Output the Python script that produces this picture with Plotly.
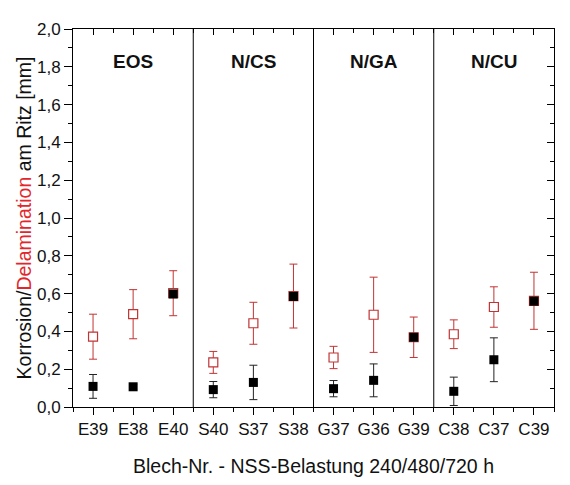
import plotly.graph_objects as go

# ---- data ----
categories = ["E39", "E38", "E40", "S40", "S37", "S38",
              "G37", "G36", "G39", "C38", "C37", "C39"]
groups = ["EOS", "N/CS", "N/GA", "N/CU"]
group_sizes = [3, 3, 3, 3]

korrosion = [0.109, 0.107, 0.598, 0.092, 0.130, 0.585,
             0.097, 0.141, 0.369, 0.083, 0.250, 0.560]
korrosion_err = [0.063, 0.012, 0.015, 0.043, 0.091, 0.015,
                 0.043, 0.087, 0.015, 0.075, 0.116, 0.015]

delamination = [0.372, 0.491, 0.602, 0.236, 0.443, 0.587,
                0.262, 0.488, 0.369, 0.385, 0.529, 0.562]
delamination_err = [0.119, 0.130, 0.119, 0.058, 0.111, 0.169,
                    0.059, 0.199, 0.107, 0.076, 0.107, 0.151]

y_ticks = [0.0, 0.2, 0.4, 0.6, 0.8, 1.0, 1.2, 1.4, 1.6, 1.8, 2.0]

# ---- style ----
FONT = "Liberation Sans, Arial, sans-serif"
RED = "#c03434"
TITLE_RED = "#e3262b"
xpos = list(range(1, len(categories) + 1))

fig = go.Figure()

fig.add_trace(go.Scatter(
    x=xpos, y=delamination, mode="markers", name="Delamination",
    marker=dict(symbol="square", size=9, color="white",
                line=dict(color=RED, width=1.2)),
    error_y=dict(type="data", array=delamination_err, visible=True,
                 color=RED, thickness=1, width=4),
    showlegend=False, hoverinfo="skip"))

fig.add_trace(go.Scatter(
    x=xpos, y=korrosion, mode="markers", name="Korrosion",
    marker=dict(symbol="square", size=9, color="black",
                line=dict(color="black", width=0)),
    error_y=dict(type="data", array=korrosion_err, visible=True,
                 color="#222222", thickness=1, width=4),
    showlegend=False, hoverinfo="skip"))

# dummy trace for the top/right axes (inward ticks)
fig.add_trace(go.Scatter(x=[None], y=[None], xaxis="x2", yaxis="y2",
                         showlegend=False, hoverinfo="skip"))

# group separators and labels
pos = 0.5
for i, (g, n) in enumerate(zip(groups, group_sizes)):
    center = pos + n / 2
    fig.add_annotation(x=center, y=1.83, xref="x", yref="y", text="<b>%s</b>" % g,
                       showarrow=False, font=dict(family=FONT, size=19, color="#111111"))
    pos += n
    if i < len(groups) - 1:
        fig.add_shape(type="line", x0=pos, x1=pos, y0=0, y1=2.0, xref="x", yref="y",
                      line=dict(color="black", width=1))

xr = [0.5, len(categories) + 0.5]
yr = [0.0, 2.0]

fig.update_layout(
    width=562, height=477,
    margin=dict(l=65, r=16, t=12, b=73),
    paper_bgcolor="white", plot_bgcolor="white",
    separators=",.",
    font=dict(family=FONT, color="#111111"),
    xaxis=dict(range=xr, tickmode="array", tickvals=xpos, ticktext=categories,
               ticks="outside", ticklen=7, tickwidth=1, tickcolor="black",
               showline=True, linecolor="black", linewidth=1,
               showgrid=False, zeroline=False,
               tickfont=dict(family=FONT, size=17, color="#111111"),
               minor=dict(tickmode="linear", tick0=0.5, dtick=1, ticks="outside",
                          ticklen=4, tickcolor="black", showgrid=False),
               title=dict(text="Blech-Nr. - NSS-Belastung 240/480/720 h",
                          font=dict(family=FONT, size=19.5, color="#111111"),
                          standoff=20)),
    yaxis=dict(range=yr, tickmode="array", tickvals=y_ticks, tickformat=".1f",
               ticks="outside", ticklen=8, tickwidth=1, tickcolor="black",
               showline=True, linecolor="black", linewidth=1,
               showgrid=False, zeroline=False,
               tickfont=dict(family=FONT, size=17, color="#111111"),
               minor=dict(tickmode="linear", tick0=0.1, dtick=0.2, ticks="outside",
                          ticklen=4, tickcolor="black", showgrid=False),
               title=dict(text="Korrosion/<span style='color:%s'>Delamination</span> am Ritz [mm]" % TITLE_RED,
                          font=dict(family=FONT, size=19.5, color="#111111"),
                          standoff=0)),
    xaxis2=dict(range=xr, overlaying="x", side="top", anchor="y2",
                tickmode="array", tickvals=xpos, showticklabels=False,
                ticks="inside", ticklen=6, tickcolor="black",
                showline=True, linecolor="black", linewidth=1,
                showgrid=False, zeroline=False,
                minor=dict(tickmode="linear", tick0=0.5, dtick=1, ticks="inside",
                           ticklen=4, tickcolor="black", showgrid=False)),
    yaxis2=dict(range=yr, overlaying="y", side="right", anchor="x2",
                tickmode="array", tickvals=y_ticks, showticklabels=False,
                ticks="inside", ticklen=7, tickcolor="black",
                showline=True, linecolor="black", linewidth=1,
                showgrid=False, zeroline=False,
                minor=dict(tickmode="linear", tick0=0.1, dtick=0.2, ticks="inside",
                           ticklen=4, tickcolor="black", showgrid=False)),
)

fig.write_html("out.html")
